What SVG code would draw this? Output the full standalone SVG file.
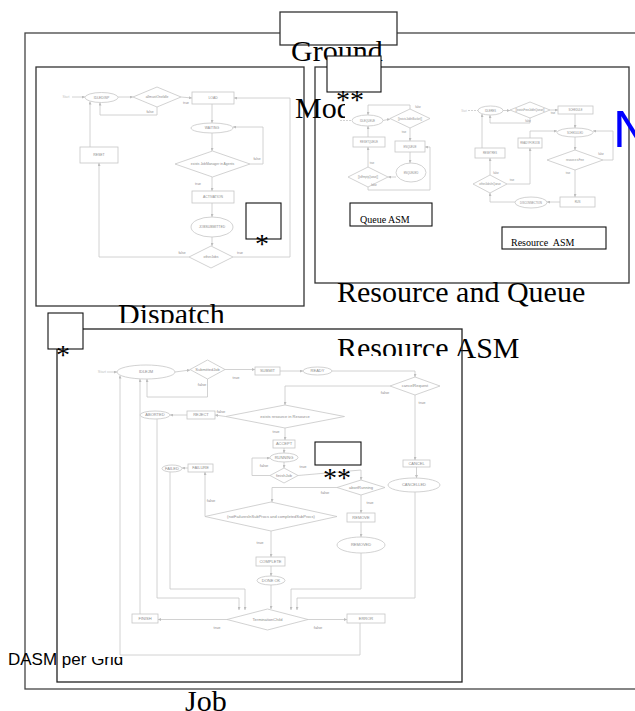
<svg xmlns="http://www.w3.org/2000/svg" width="635" height="711" viewBox="0 0 635 711">
<defs>
<marker id="a" viewBox="0 0 6 6" refX="6" refY="3" markerWidth="3" markerHeight="3" orient="auto" markerUnits="userSpaceOnUse"><path d="M0,0L6,3L0,6z" fill="#bdbdbd"/></marker>
<style>
.fr{fill:#fff;stroke:#333;stroke-width:1.3}
.fo{fill:none;stroke:#444;stroke-width:1.3}
.bx{fill:#fff;stroke:#111;stroke-width:1.1}
.n{fill:#fff;stroke:#c6c6c6;stroke-width:.8}
.c{fill:none;stroke:#c6c6c6;stroke-width:.8;marker-end:url(#a)}
.c0{fill:none;stroke:#c6c6c6;stroke-width:.8}
.big{font-family:"Liberation Serif","Times New Roman",serif;font-size:30px;fill:#000}
.ast{font-family:"Liberation Serif","Times New Roman",serif;font-size:28px;fill:#000}
.sm{font-family:"Liberation Serif","Times New Roman",serif;font-size:10px;fill:#000}
.l{font-family:"Liberation Sans",Arial,sans-serif;font-size:3.4px;fill:#8c8c8c;text-anchor:middle}
.lq{font-family:"Liberation Sans",Arial,sans-serif;font-size:2.6px;fill:#8c8c8c;text-anchor:middle}
.lj{font-family:"Liberation Sans",Arial,sans-serif;font-size:4px;fill:#8c8c8c;text-anchor:middle}
</style>
</defs>
<rect width="635" height="711" fill="#fff"/>
<rect id="outer-frame" class="fo" x="25" y="33" width="700" height="656"/>
<g id="ground-box"><rect class="fr" x="280" y="12" width="117" height="33"/></g>
<text class="big" x="291" y="61">Ground</text>

<!-- Dispatch -->
<g id="dispatch">
<rect class="fr" x="36" y="67" width="268" height="239"/>
<g id="d-connectors">
<path class="c" d="M72,97H85"/>
<path class="c" d="M118,97H133"/>
<path class="c" d="M181,97L192,98"/>
<path class="c" d="M157,107V115H100V102.5"/>
<path class="c" d="M212,104V123"/>
<path class="c" d="M212,133V151"/>
<path class="c" d="M250,164H263V127H233"/>
<path class="c" d="M212,177V191"/>
<path class="c" d="M212,203V217"/>
<path class="c" d="M212,237V246"/>
<path class="c" d="M189,257H99V163"/>
<path class="c" d="M233,257H290V98H234"/>
<path class="c" d="M90,147V101.5"/>
</g>
<text class="l" x="66" y="98.2" style="fill:#c4c4c4">Start</text>
<g id="d-idledisp"><ellipse class="n" cx="101.5" cy="97.5" rx="16.5" ry="5"/><text class="l" x="101.5" y="98.7">IDLEDISP</text></g>
<g id="d-allmust"><polygon class="n" points="133,97 157,87 181,97 157,107"/><text class="l" x="157" y="98.2">allmustOneIdle</text></g>
<g id="d-load"><rect class="n" x="192" y="92" width="42" height="12"/><text class="l" x="213" y="99.2">LOAD</text></g>
<g id="d-waiting"><ellipse class="n" cx="212" cy="128" rx="21" ry="5"/><text class="l" x="212" y="129.2">WAITING</text></g>
<g id="d-exists"><polygon class="n" points="175,164 212.5,151 250,164 212.5,177"/><text class="l" x="212.5" y="165.2">exists JobManager in Agents</text></g>
<g id="d-activation"><rect class="n" x="192" y="191" width="42" height="12"/><text class="l" x="213" y="198.2">ACTIVATION</text></g>
<g id="d-jobsub"><ellipse class="n" cx="212" cy="227" rx="21" ry="10"/><text class="l" x="212" y="228.2">JOBSUBMITTED</text></g>
<g id="d-other"><polygon class="n" points="189,257 211,246 233,257 211,268"/><text class="l" x="211" y="258.2">otherJobs</text></g>
<g id="d-reset"><rect class="n" x="80" y="147" width="38" height="16"/><text class="l" x="99" y="156.2">RESET</text></g>
<text class="l" x="186" y="104">true</text>
<text class="l" x="150" y="113">false</text>
<text class="l" x="257" y="160">false</text>
<text class="l" x="198" y="185">true</text>
<text class="l" x="182" y="254">false</text>
<text class="l" x="240" y="254">true</text>
<g id="d-star"><rect class="bx" x="246" y="203" width="35" height="36"/><text class="ast" x="255" y="253">*</text></g>
</g>

<!-- Resource and Queue -->
<g id="resource-queue">
<rect class="fr" x="315" y="67" width="314" height="216"/>
<text class="big" x="295" y="118">Model</text>
<rect x="345" y="96" width="282" height="185" fill="#fff"/>
<g id="q-connectors">
<path class="c0" d="M340,120.5H352" stroke-dasharray="2 1"/>
<path class="c" d="M383,120.5L390,119"/>
<path class="c" d="M410,109V105H368V115"/>
<path class="c" d="M410,128V141"/>
<path class="c" d="M410,152V163"/>
<path class="c" d="M396,177H388"/>
<path class="c" d="M368,167V147"/>
<path class="c" d="M368,137V126"/>
<path class="c" d="M368,187V190H430V147H425"/>
</g>
<g id="q-idle"><ellipse class="n" cx="367.5" cy="120.5" rx="15.5" ry="5.5"/><text class="lq" x="367.5" y="121.5">IDLEQUEUE</text></g>
<g id="q-d1"><polygon class="n" points="390,118.5 410,109 430,118.5 410,128"/><text class="lq" x="410" y="119.5">[[existsJobInBucket]]</text></g>
<g id="q-reset"><rect class="n" x="353" y="137" width="32" height="10"/><text class="lq" x="369" y="143">RESETQUEUE</text></g>
<g id="q-enqueue"><rect class="n" x="395" y="141" width="30" height="11"/><text class="lq" x="410" y="147.5">ENQUEUE</text></g>
<g id="q-enqueued"><ellipse class="n" cx="411" cy="172.5" rx="15" ry="9.5"/><text class="lq" x="411" y="173.5">ENQUEUED</text></g>
<g id="q-d2"><polygon class="n" points="348,177 368,167 388,177 368,187"/><text class="lq" x="368" y="178">[[isEmptyQueue]]</text></g>
<text class="lq" x="418" y="108">false</text>
<text class="lq" x="404" y="133">true</text>
<text class="lq" x="372" y="164">true</text>
<text class="lq" x="374" y="186">false</text>

<g id="r-connectors">
<path class="c0" d="M468,110.5H478" stroke-dasharray="2 1"/>
<path class="c" d="M503,110.5H510"/>
<path class="c" d="M550,110H558"/>
<path class="c" d="M530,118V123H490V115"/>
<path class="c" d="M575,114V128"/>
<path class="c" d="M575,137V150"/>
<path class="c" d="M603,160H613V131H593"/>
<path class="c" d="M575,170V197"/>
<path class="c" d="M560,202H547"/>
<path class="c" d="M515,202H490V193"/>
<path class="c" d="M490,175V158"/>
<path class="c" d="M482,148V114"/>
<path class="c" d="M507,184H530V148"/>
<path class="c" d="M530,138V131H557"/>
</g>
<text class="lq" x="464" y="111.5" style="fill:#c4c4c4">Start</text>
<g id="r-idle"><ellipse class="n" cx="490.5" cy="110.5" rx="12.5" ry="4.5"/><text class="lq" x="490.5" y="111.5">IDLERES</text></g>
<g id="r-d1"><polygon class="n" points="510,110 530,102 550,110 530,118"/><text class="lq" x="530" y="111">[[existsFreeJobInQueue]]</text></g>
<g id="r-schedule"><rect class="n" x="558" y="106" width="35" height="8"/><text class="lq" x="575.5" y="111">SCHEDULE</text></g>
<g id="r-scheduled"><ellipse class="n" cx="575" cy="132.5" rx="18" ry="4.5"/><text class="lq" x="575" y="133.5">SCHEDULED</text></g>
<g id="r-d2"><polygon class="n" points="547,160 575,150 603,160 575,170"/><text class="lq" x="575" y="161">resource isFree</text></g>
<g id="r-run"><rect class="n" x="560" y="197" width="35" height="10"/><text class="lq" x="577.5" y="203">RUN</text></g>
<g id="r-disc"><ellipse class="n" cx="531" cy="202.5" rx="16" ry="5.5"/><text class="lq" x="531" y="203.5">DISCONNECTION</text></g>
<g id="r-d3"><polygon class="n" points="473,184 490,175 507,184 490,193"/><text class="lq" x="490" y="185">otherJobsInQueue</text></g>
<g id="r-reset"><rect class="n" x="475" y="148" width="30" height="10"/><text class="lq" x="490" y="154">RESETRES</text></g>
<g id="r-ready"><rect class="n" x="518" y="138" width="24" height="10"/><text class="lq" x="530" y="144">READYFORJOB</text></g>
<text class="lq" x="553" y="114">true</text>
<text class="lq" x="528" y="122">false</text>
<text class="lq" x="601" y="155">false</text>
<text class="lq" x="568" y="174">true</text>
<text class="lq" x="496" y="174">false</text>
<text class="lq" x="512" y="181">true</text>

<g id="queue-asm"><rect class="bx" x="350" y="203" width="82" height="23"/><text class="sm" x="360" y="223">Queue ASM</text></g>
<g id="resource-asm"><rect class="bx" x="502" y="227" width="104" height="22"/><text class="sm" x="511" y="246" xml:space="preserve">Resource  ASM</text></g>
</g>

<g id="rq-star"><rect class="bx" x="327" y="56" width="54" height="36"/><text class="ast" x="336" y="109">**</text></g>
<text x="613" y="147" style="font-family:'Liberation Sans',Arial,sans-serif;font-size:52px;fill:#0000ff">N</text>

<text class="big" x="118" y="324">Dispatch</text>
<text class="big" x="337" y="302">Resource and Queue</text>

<!-- Job -->
<g id="job">
<rect x="57" y="323" width="405" height="359" fill="#fff"/>
<text class="big" x="337" y="358">Resource ASM</text>
<text x="8" y="665" style="font-family:'Liberation Sans',Arial,sans-serif;font-size:17px;fill:#000">DASM per Grid</text>
<rect x="88" y="356" width="374" height="301" fill="#fff"/>
<rect x="57" y="329" width="405" height="353" fill="none" stroke="#222" stroke-width="1.3"/>
<g id="j-connectors">
<path class="c" d="M107,372H117"/>
<path class="c" d="M175,372L190,370"/>
<path class="c" d="M225,369.5H255"/>
<path class="c" d="M207.5,379V397H147V379"/>
<path class="c" d="M280,371H303"/>
<path class="c" d="M332,371H415V377"/>
<path class="c" d="M390,386H285V405"/>
<path class="c" d="M415,395V460"/>
<path class="c" d="M225.5,416.5L215,415"/>
<path class="c" d="M187,415H170"/>
<path class="c" d="M285,428V440"/>
<path class="c" d="M284,448V453"/>
<path class="c" d="M284,462V468"/>
<path class="c" d="M270,475.5H252V458H270"/>
<path class="c" d="M298,475.5L361,470V480"/>
<path class="c" d="M337,487.5H272V502"/>
<path class="c" d="M361,495V513"/>
<path class="c" d="M361,522V537"/>
<path class="c" d="M416.5,467V478"/>
<path class="c" d="M188,468H182"/>
<path class="c" d="M205,516.5V472"/>
<path class="c" d="M271,531V557"/>
<path class="c" d="M271,566V576"/>
<path class="c" d="M271,585V609"/>
<path class="c" d="M227,619.5H158"/>
<path class="c" d="M308,619.5H347"/>
<path class="c" d="M360,623V655H120V375.5"/>
<path class="c" d="M140,614V379"/>
<path class="c" d="M157,419V598H239V610"/>
<path class="c" d="M170,472V589H245V610"/>
<path class="c" d="M361,553V589H291V610"/>
<path class="c" d="M415,492V598H297V610"/>
</g>
<text class="lj" x="102" y="373.4" style="fill:#c4c4c4">Start</text>
<g id="j-idle"><ellipse class="n" cx="146" cy="372" rx="29" ry="7"/><text class="lj" x="146" y="373.4">IDLEJM</text></g>
<g id="j-submitted"><polygon class="n" points="190,369.5 207.5,360 225,369.5 207.5,379"/><text class="lj" x="207.5" y="370.9">SubmittedJob</text></g>
<g id="j-submit"><rect class="n" x="255" y="367" width="25" height="8"/><text class="lj" x="267.5" y="372.4">SUBMIT</text></g>
<g id="j-ready"><ellipse class="n" cx="317.5" cy="371" rx="14.5" ry="4"/><text class="lj" x="317.5" y="372.4">READY</text></g>
<g id="j-cancelreq"><polygon class="n" points="390,386 415,377 440,386 415,395"/><text class="lj" x="415" y="387.4">cancelRequest</text></g>
<g id="j-exists"><polygon class="n" points="225.5,416.5 285,405 344.5,416.5 285,428"/><text class="lj" x="285" y="417.9">exists resource in Resource</text></g>
<g id="j-reject"><rect class="n" x="187" y="411" width="28" height="8"/><text class="lj" x="201" y="416.4">REJECT</text></g>
<g id="j-aborted"><ellipse class="n" cx="155" cy="415" rx="15" ry="4"/><text class="lj" x="155" y="416.4">ABORTED</text></g>
<g id="j-accept"><rect class="n" x="273" y="440" width="22" height="8"/><text class="lj" x="284" y="445.4">ACCEPT</text></g>
<g id="j-running"><ellipse class="n" cx="284" cy="457.5" rx="14" ry="4.5"/><text class="lj" x="284" y="458.9">RUNNING</text></g>
<g id="j-finishjob"><polygon class="n" points="270,475.5 284,468 298,475.5 284,483"/><text class="lj" x="284" y="476.9">finishJob</text></g>
<g id="j-abortrun"><polygon class="n" points="337,487.5 361,480 385,487.5 361,495"/><text class="lj" x="361" y="488.9">abortRunning</text></g>
<g id="j-cancel"><rect class="n" x="403" y="460" width="27" height="7"/><text class="lj" x="416.5" y="465">CANCEL</text></g>
<g id="j-cancelled"><ellipse class="n" cx="414" cy="485" rx="26" ry="7"/><text class="lj" x="414" y="486.4">CANCELLED</text></g>
<g id="j-failed"><ellipse class="n" cx="172" cy="468.5" rx="10" ry="3.5"/><text class="lj" x="172" y="469.9">FAILED</text></g>
<g id="j-failure"><rect class="n" x="188" y="464" width="25" height="8"/><text class="lj" x="200.5" y="469.4">FAILURE</text></g>
<g id="j-completed"><polygon class="n" points="205,516.5 271,502 337,516.5 271,531"/><text class="lj" x="271" y="517.9">(notFailuresInSubProcs and completedSubProcs)</text></g>
<g id="j-remove"><rect class="n" x="347" y="513" width="28" height="9"/><text class="lj" x="361" y="518.9">REMOVE</text></g>
<g id="j-removed"><ellipse class="n" cx="361" cy="545" rx="24" ry="8"/><text class="lj" x="361" y="546.4">REMOVED</text></g>
<g id="j-complete"><rect class="n" x="256" y="557" width="29" height="9"/><text class="lj" x="270.5" y="562.9">COMPLETE</text></g>
<g id="j-doneok"><ellipse class="n" cx="271" cy="580.5" rx="14" ry="4.5"/><text class="lj" x="271" y="581.9">DONE OK</text></g>
<g id="j-term"><polygon class="n" points="227,619.5 267.5,609 308,619.5 267.5,630"/><text class="lj" x="267.5" y="620.9">TerminationChild</text></g>
<g id="j-finish"><rect class="n" x="132" y="614" width="26" height="9"/><text class="lj" x="145" y="619.9">FINISH</text></g>
<g id="j-error"><rect class="n" x="347" y="614" width="38" height="9"/><text class="lj" x="366" y="619.9">ERROR</text></g>
<text class="lj" x="236" y="379">true</text>
<text class="lj" x="202" y="386">false</text>
<text class="lj" x="385" y="394">false</text>
<text class="lj" x="422" y="404">true</text>
<text class="lj" x="221" y="413">false</text>
<text class="lj" x="276" y="433">true</text>
<text class="lj" x="264" y="467">false</text>
<text class="lj" x="303" y="468">true</text>
<text class="lj" x="325" y="494">false</text>
<text class="lj" x="370" y="504">true</text>
<text class="lj" x="211" y="502">false</text>
<text class="lj" x="260" y="544">true</text>
<text class="lj" x="217" y="629">true</text>
<text class="lj" x="318" y="629">false</text>
<g id="j-star"><rect class="bx" x="48" y="313" width="35" height="36"/><text class="ast" x="56" y="364">*</text></g>
<g id="j-star2"><rect class="bx" x="315" y="442" width="46" height="23"/><text class="ast" x="323" y="487">**</text></g>
</g>
<text class="big" x="185" y="711">Job</text>
</svg>
